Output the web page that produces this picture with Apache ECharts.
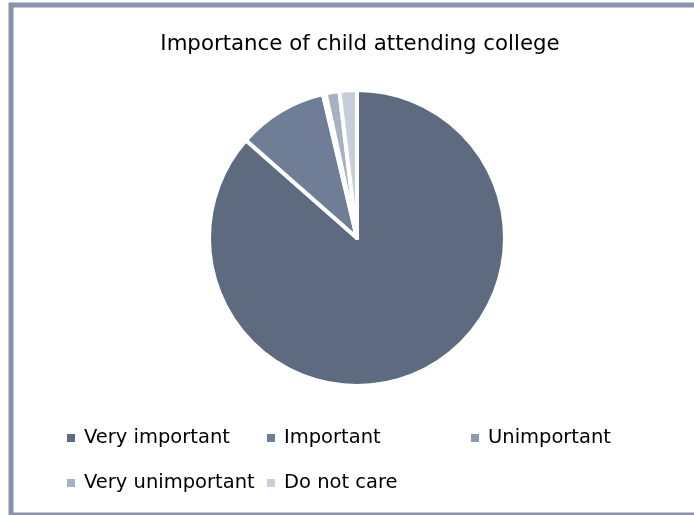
<!DOCTYPE html>
<html>
<head>
<meta charset="utf-8">
<script src="https://cdn.jsdelivr.net/npm/echarts@6/dist/echarts.min.js"></script>
<style>
  html, body { margin: 0; padding: 0; background: #ffffff; }
  #chart { width: 694px; height: 515px; }
</style>
</head>
<body>
<div id="chart"></div>
<script>
// Survey answers: how important is it that the child attends college (percent)
const categories = ['Very important', 'Important', 'Unimportant', 'Very unimportant', 'Do not care'];
const shares = [86.5, 9.8, 0.3, 1.5, 1.9];
const sliceColors = ['#5d6a80', '#6f7e96', '#8c99ae', '#a8b1c1', '#c8ced9'];

// Legend entries are laid out in two rows, each entry placed on its own
const legendSpots = [
  { left: 62, top: 423 },
  { left: 262, top: 423 },
  { left: 466, top: 423 },
  { left: 62, top: 468 },
  { left: 262, top: 468 }
];

const chart = echarts.init(document.getElementById('chart'), null, { renderer: 'canvas' });

const fontFamily = '"DejaVu Sans", sans-serif';

const option = {
  animation: false,
  color: sliceColors,
  title: {
    text: 'Importance of child attending college',
    left: 355,
    top: 29,
    textAlign: 'center',
    textStyle: { fontFamily: fontFamily, fontSize: 21.3, fontWeight: 'normal', color: '#000000' }
  },
  legend: categories.map((name, i) => ({
    data: [name],
    left: legendSpots[i].left,
    top: legendSpots[i].top,
    orient: 'horizontal',
    icon: 'rect',
    itemWidth: 8,
    itemHeight: 8,
    itemGap: 0,
    selectedMode: false,
    itemStyle: { borderWidth: 0 },
    textStyle: { fontFamily: fontFamily, fontSize: 19.5, color: '#000000', padding: [0, 0, 0, 4] }
  })),
  graphic: [{
    type: 'rect',
    shape: { x: 11, y: 5, width: 690, height: 510 },
    style: { fill: 'none', stroke: '#8794ab', lineWidth: 5 },
    silent: true
  }],
  series: [{
    type: 'pie',
    center: [357, 238],
    radius: [0, 148],
    startAngle: 90,
    clockwise: true,
    label: { show: false },
    labelLine: { show: false },
    emphasis: { disabled: true },
    itemStyle: { borderColor: '#ffffff', borderWidth: 4 },
    data: categories.map((name, i) => ({ name: name, value: shares[i] }))
  }]
};

chart.setOption(option);
</script>
</body>
</html>
